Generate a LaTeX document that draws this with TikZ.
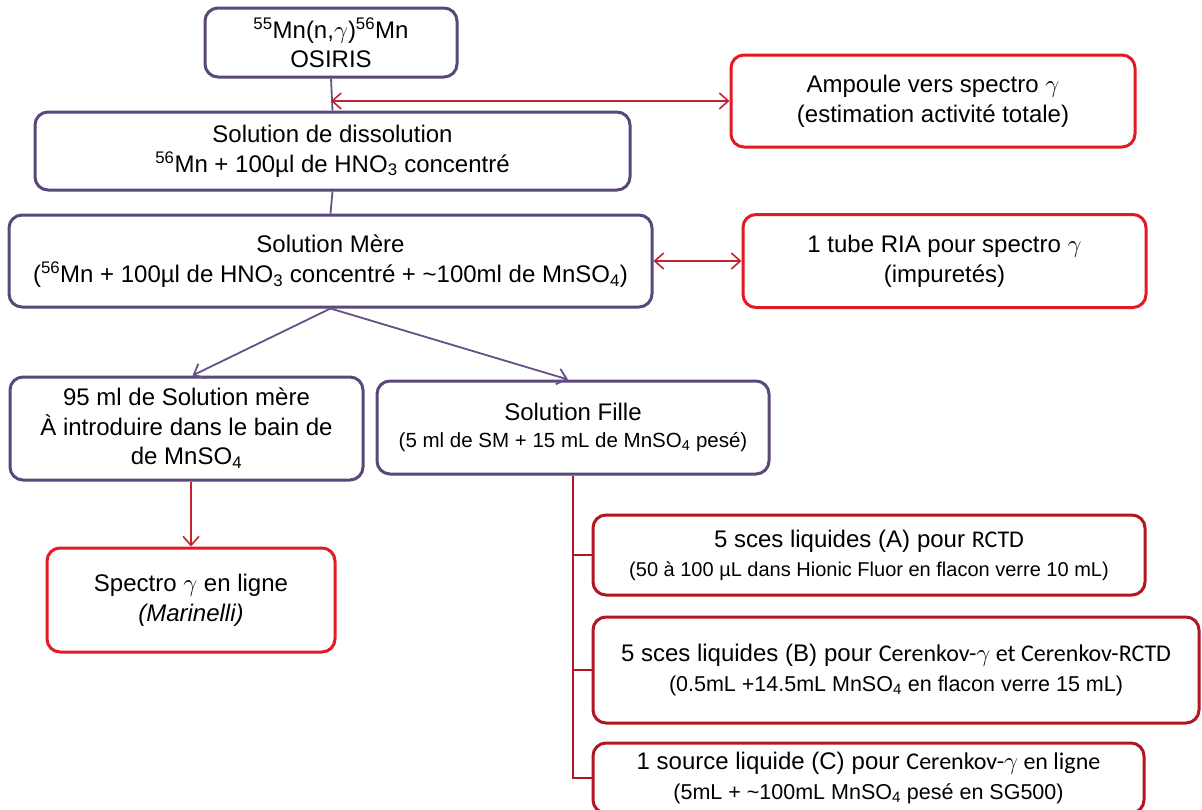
\documentclass[tikz,border=0pt]{standalone}
\usepackage{fontspec}
\setmainfont{Liberation Sans}
\newfontfamily\calfont{Carlito}
\usetikzlibrary{arrows.meta,calc}
\definecolor{purp}{RGB}{90,72,122}
\definecolor{purpl}{RGB}{98,82,136}
\definecolor{bred}{RGB}{226,26,36}
\definecolor{dred}{RGB}{178,22,32}
\definecolor{lred}{RGB}{192,36,46}
\newcommand\gam{\ensuremath{\gamma}}
\newcommand\smltxt{\fontsize{20}{25}\selectfont}
\newcommand\filtxt{\fontsize{20.5}{25}\selectfont}
\newcommand\medtxt{\fontsize{21.5}{27}\selectfont}
\begin{document}
\begin{tikzpicture}[x=1pt,y=-1pt,
  >={Straight Barb[length=9pt,width=16pt]},
  boxbase/.style={line width=3pt, rounded corners=13pt, fill=white, align=center,
    inner sep=0pt, font=\fontsize{24}{30}\selectfont},
  pbox/.style={boxbase, draw=purp},
  rbox/.style={boxbase, draw=bred},
  dbox/.style={boxbase, draw=dred},
  pline/.style={draw=purpl, line width=1.8pt},
  rline/.style={draw=lred, line width=1.6pt},
  dline/.style={draw=dred, line width=1.6pt}]
\useasboundingbox[fill=white] (0,0) rectangle (1202,809);

\node[pbox, minimum width=252pt, minimum height=69pt, font=\fontsize{24}{28.5}\selectfont] (osiris) at (331,42.5)
  {\textsuperscript{55}Mn(n,\gam)\textsuperscript{56}Mn\\OSIRIS};
\node[rbox, minimum width=404pt, minimum height=92pt] (amp) at (933,101)
  {Ampoule vers spectro \gam\\(estimation activité totale)};
\node[pbox, minimum width=595pt, minimum height=78pt] (sd) at (332.5,151)
  {Solution de dissolution\\\textsuperscript{56}Mn + 100µl de HNO\textsubscript{3} concentré};
\node[pbox, minimum width=643pt, minimum height=92pt] (mere) at (330.5,261)
  {Solution Mère\\(\textsuperscript{56}Mn + 100µl de HNO\textsubscript{3} concentré + \textasciitilde100ml de MnSO\textsubscript{4})};
\node[rbox, minimum width=403pt, minimum height=93pt] (ria) at (944.5,261)
  {1 tube RIA pour spectro \gam\\(impuretés)};
\node[pbox, minimum width=353pt, minimum height=103pt, font=\fontsize{24}{29.5}\selectfont] (m95) at (186.5,428.5)
  {95 ml de Solution mère\\À introduire dans le bain de\\de MnSO\textsubscript{4}};
\node[pbox, minimum width=392pt, minimum height=93pt] (fille) at (573,427.5)
  {Solution Fille\\[-3pt]{\filtxt(5 ml de SM + 15 mL de MnSO\textsubscript{4} pesé)}};
\node[rbox, minimum width=288pt, minimum height=104pt] (spec) at (191,600)
  {Spectro \gam\ en ligne\\\textit{(Marinelli)}};
\node[dbox, minimum width=552pt, minimum height=80pt] (A) at (869,555)
  {5 sces liquides (A)\hspace{7pt}pour {\calfont RCTD}\\[-1pt]{\smltxt(50 à 100 µL dans Hionic Fluor en flacon verre 10 mL)}};
\node[dbox, minimum width=606pt, minimum height=106pt] (B) at (896,670)
  {5 sces liquides (B)\hspace{7pt}pour {\calfont Cerenkov-\gam\ et Cerenkov-RCTD}\\{\medtxt(0.5mL +14.5mL MnSO\textsubscript{4} en flacon verre 15 mL)}};
\node[dbox, minimum width=551pt, minimum height=70pt] (C) at (868.5,778)
  {1 source liquide (C)\hspace{7pt}pour {\calfont Cerenkov-\gam\ en ligne}\\{\medtxt(5mL + \textasciitilde100mL MnSO\textsubscript{4} pesé en SG500)}};

\coordinate (j1) at (osiris.south |- amp.west);
\draw[pline] (osiris.south) -- (sd.north);
\draw[rline,<->] (j1) -- (amp.west);
\draw[pline] (sd.south) -- (mere.north);
\draw[rline,<->] (mere.east) -- (ria.west);
\draw[pline,->] (mere.south) -- ($(m95.north)+(6,0)$);
\draw[pline,->] (mere.south) -- ($(fille.north)+(-5,0)$);
\draw[rline,->] (spec.north |- m95.south) -- (spec.north);
\draw[dline] (fille.south) -- (fille.south |- C.west) -- (C.west);
\draw[dline] (fille.south |- A.west) -- (A.west);
\draw[dline] (fille.south |- B.west) -- (B.west);
\end{tikzpicture}
\end{document}
